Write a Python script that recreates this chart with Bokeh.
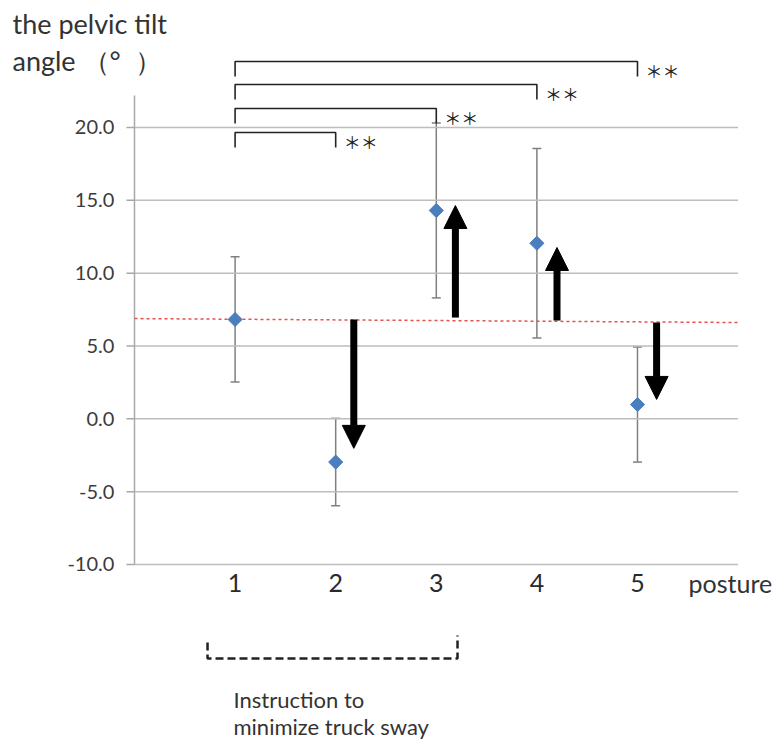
from bokeh.plotting import figure
from bokeh.models import (Range1d, Arrow, NormalHead, TeeHead,
                          ColumnDataSource, Whisker)
from bokeh.embed import file_html
from bokeh.resources import INLINE
from bokeh.core.properties import value

# ---- data ----
postures = [1, 2, 3, 4, 5]
posture_labels = ["1", "2", "3", "4", "5"]
means = [6.82, -2.97, 14.3, 12.05, 0.98]
sds = [4.3, 3.0, 6.0, 6.5, 3.95]
y_ticks = [-10, -5, 0, 5, 10, 15, 20]
y_tick_labels = ["%.1f" % t for t in y_ticks]

ref_x = [0, 6]
ref_y = [6.88, 6.61]

arrow_postures = [2, 3, 4, 5]
arrow_start = [6.82, 6.95, 6.75, 6.61]
arrow_end = [-2.03, 14.64, 11.76, 1.33]
arrow_offset = [0.18, 0.19, 0.2, 0.19]

sig_from = 1
sig_targets = [2, 3, 4, 5]
sig_levels = [19.65, 21.3, 22.95, 24.53]
sig_drop = 1.03
sig_text = "＊＊"

group_x = [0.726, 3.211]
group_top = [-15.36, -14.87]
group_bottom = -16.46

FONT = "Lato"
TXT = "#333333"

# axis geometry (data units)
x_min, x_max = 0, 6
y_min, y_axis_top = -10, 22.2

upper = [m + s for m, s in zip(means, sds)]
lower = [m - s for m, s in zip(means, sds)]
src = ColumnDataSource(dict(x=postures, y=means, upper=upper, lower=lower))

p = figure(width=774, height=740, output_backend="svg", toolbar_location=None,
           x_range=Range1d(-1.332, 6.362), y_range=Range1d(-22.084, 28.716),
           x_axis_location=None, y_axis_location=None, min_border=0, title=None)
p.outline_line_color = None
p.background_fill_color = "white"
p.grid.visible = False

# horizontal gridlines
p.segment(x0=[x_min] * len(y_ticks), x1=[x_max] * len(y_ticks), y0=y_ticks, y1=y_ticks,
          line_color="#bdbdbd", line_width=1.5)
# y axis line and ticks
p.segment(x0=[x_min], x1=[x_min], y0=[y_min], y1=[y_axis_top],
          line_color="#a8a8a8", line_width=1.5)
p.segment(x0=[x_min - 0.08] * len(y_ticks), x1=[x_min] * len(y_ticks), y0=y_ticks, y1=y_ticks,
          line_color="#a8a8a8", line_width=1.5)
# y tick labels
p.text(x=[x_min - 0.2] * len(y_ticks), y=y_ticks, text=y_tick_labels,
       text_font=value(FONT), text_font_size="20px", text_align="right",
       text_baseline="middle", text_color="#3c3c3c")
# x tick labels
p.text(x=postures, y=[y_min - 1.24] * len(postures), text=posture_labels,
       text_font=value(FONT), text_font_size="25px", text_align="center",
       text_baseline="middle", text_color="#2a2a2a")

# reference line
p.line(ref_x, ref_y, line_color="#e8504a", line_width=1.5, line_dash="3 3")

# error bars
p.add_layout(Whisker(base="x", upper="upper", lower="lower", source=src,
                     line_color="#808080", line_width=1.5,
                     upper_head=TeeHead(size=9, line_color="#808080", line_width=1.5),
                     lower_head=TeeHead(size=9, line_color="#808080", line_width=1.5)))

# means
p.scatter("x", "y", source=src, marker="square", size=10, angle=0.785,
          fill_color="#4a7ebf", line_color="#4a7ebf")

# change arrows
for pp, s, e, o in zip(arrow_postures, arrow_start, arrow_end, arrow_offset):
    p.add_layout(Arrow(end=NormalHead(size=23, fill_color="black", line_color="black"),
                       x_start=pp + o, y_start=s, x_end=pp + o, y_end=e,
                       line_color="black", line_width=7))

# significance brackets
bx = [[sig_from, sig_from, t, t] for t in sig_targets]
by = [[l - sig_drop, l, l, l - sig_drop] for l in sig_levels]
p.multi_line(bx, by, line_color="#222222", line_width=1.6)
p.text(x=[t + 0.08 for t in sig_targets], y=[l - 0.6 for l in sig_levels],
       text=[sig_text] * len(sig_targets), text_font=value("Noto Sans CJK JP"),
       text_font_size="17px", text_baseline="middle", text_align="left",
       text_color="#222222")

# titles / labels
def lab(txt, x, y, size):
    p.text(x=[x], y=[y], text=[txt], text_font=value(FONT), text_font_size=size,
           text_baseline="middle", text_align="left", text_color=TXT)

lab("the pelvic tilt", -1.213, 27.14, "27px")
lab("angle （°\u00a0\u00a0）", -1.213, 24.6, "27px")
lab("posture", 5.507, y_min - 1.3, "25px")
lab("Instruction to", 0.984, -19.3, "22px")
lab("minimize truck sway", 0.984, -21.15, "22px")

# group bracket (dashed)
p.line([group_x[0], group_x[0], group_x[1], group_x[1]],
       [group_top[0], group_bottom, group_bottom, group_top[1]],
       line_color="#222222", line_width=2.5, line_dash="8 4")

open("out.html", "w").write(file_html(p, INLINE))
